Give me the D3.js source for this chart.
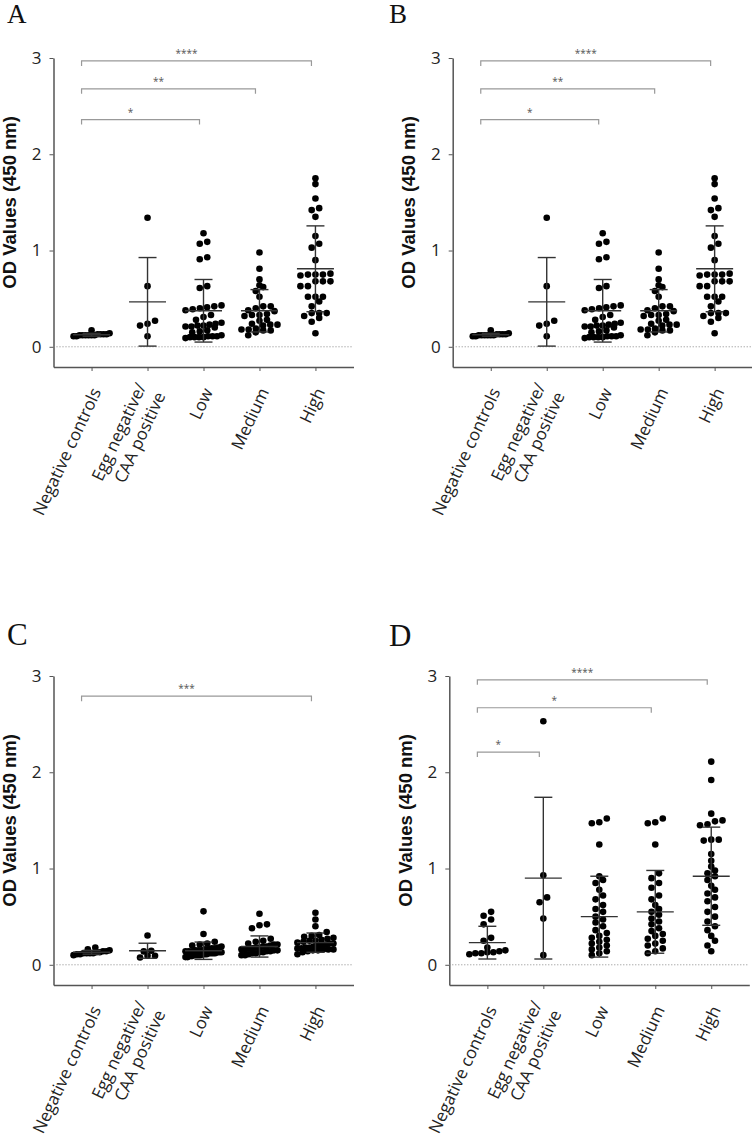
<!DOCTYPE html>
<html lang="en">
<head>
<meta charset="utf-8">
<title>OD values by group</title>
<script src="https://d3js.org/d3.v7.min.js"></script>
<style>
  body { margin: 0; background: #fff; }
</style>
</head>
<body>
<div id="chart"></div>
<script>
// categories and ticks
var categories = ["Negative controls", "Egg negative/\nCAA positive", "Low", "Medium", "High"];
var yTicks = [0, 1, 2, 3];

// panel A (B shows the same data)
var negA  = [0.11, 0.12, 0.12, 0.13, 0.12, 0.17, 0.13, 0.12, 0.12, 0.14, 0.13, 0.12, 0.11, 0.13];
var eggA  = [1.34, 0.63, 0.27, 0.24, 0.22, 0.11];
var lowA  = [1.18, 1.09, 1.07, 0.93, 0.91, 0.63, 0.61, 0.43, 0.42, 0.41, 0.40, 0.39, 0.38, 0.33, 0.31, 0.28,
             0.25, 0.24, 0.23, 0.22, 0.22, 0.21, 0.21, 0.20, 0.17, 0.16, 0.15, 0.12, 0.11, 0.11, 0.11, 0.10,
             0.10, 0.10, 0.10, 0.09];
var medA  = [0.98, 0.81, 0.70, 0.64, 0.62, 0.58, 0.52, 0.42, 0.42, 0.40, 0.38, 0.37, 0.34, 0.33, 0.33, 0.32,
             0.28, 0.27, 0.24, 0.23, 0.23, 0.22, 0.19, 0.18, 0.18, 0.17, 0.17, 0.15, 0.12];
var highA = [1.75, 1.69, 1.54, 1.44, 1.42, 1.35, 1.15, 1.07, 1.03, 0.90, 0.76, 0.75, 0.75, 0.74, 0.75, 0.68,
             0.68, 0.68, 0.63, 0.63, 0.52, 0.52, 0.52, 0.47, 0.42, 0.35, 0.35, 0.35, 0.32, 0.30, 0.26, 0.14];
var meanA = [0.125, 0.467, 0.374, 0.374, 0.81];
var sdA   = [0.015, 0.46, 0.325, 0.22, 0.446];
var bracketsA = [
  {from: 0, to: 2, level: 2.36, label: "*"},
  {from: 0, to: 3, level: 2.68, label: "**"},
  {from: 0, to: 4, level: 2.97, label: "****"}
];

// panel C
var negC  = [0.12, 0.12, 0.11, 0.13, 0.12, 0.14, 0.15, 0.18, 0.16, 0.13, 0.12, 0.11, 0.10, 0.14];
var eggC  = [0.305, 0.146, 0.139, 0.094, 0.094, 0.076];
var lowC  = [0.555, 0.32, 0.24, 0.22, 0.21, 0.20, 0.19, 0.18, 0.17, 0.17, 0.16, 0.16, 0.15, 0.15, 0.15, 0.14,
             0.14, 0.14, 0.13, 0.13, 0.13, 0.12, 0.12, 0.12, 0.12, 0.11, 0.11, 0.11, 0.10, 0.10, 0.10, 0.10,
             0.09, 0.09, 0.08, 0.08];
var medC  = [0.53, 0.42, 0.41, 0.38, 0.27, 0.25, 0.24, 0.22, 0.21, 0.21, 0.20, 0.19, 0.19, 0.18, 0.18, 0.17,
             0.17, 0.16, 0.16, 0.15, 0.15, 0.14, 0.14, 0.13, 0.13, 0.12, 0.12, 0.11, 0.10, 0.10];
var highC = [0.54, 0.47, 0.40, 0.34, 0.31, 0.30, 0.29, 0.28, 0.27, 0.26, 0.25, 0.25, 0.24, 0.23, 0.22, 0.22,
             0.21, 0.20, 0.20, 0.19, 0.18, 0.18, 0.17, 0.17, 0.16, 0.16, 0.16, 0.15, 0.15, 0.14, 0.13, 0.11];
var meanC = [0.13, 0.146, 0.146, 0.19, 0.23];
var sdC   = [0.02, 0.078, 0.09, 0.11, 0.10];
var bracketsC = [
  {from: 0, to: 4, level: 2.79, label: "***"}
];

// panel D
var negD  = [0.55, 0.51, 0.47, 0.42, 0.28, 0.25, 0.18, 0.15, 0.14, 0.13, 0.13, 0.12, 0.12, 0.11];
var eggD  = [2.53, 0.93, 0.70, 0.65, 0.48, 0.10];
var lowD  = [1.52, 1.48, 1.47, 1.25, 0.92, 0.88, 0.85, 0.78, 0.72, 0.68, 0.62, 0.58, 0.55, 0.50, 0.47, 0.44,
             0.40, 0.36, 0.33, 0.30, 0.28, 0.26, 0.24, 0.22, 0.20, 0.18, 0.16, 0.14, 0.12, 0.10];
var medD  = [1.52, 1.48, 1.47, 1.25, 0.95, 0.90, 0.85, 0.80, 0.72, 0.68, 0.62, 0.58, 0.55, 0.52, 0.48, 0.45,
             0.42, 0.38, 0.35, 0.32, 0.30, 0.27, 0.25, 0.22, 0.20, 0.17, 0.14, 0.12];
var highD = [2.11, 1.92, 1.57, 1.50, 1.49, 1.46, 1.45, 1.30, 1.29, 1.30, 1.15, 1.08, 1.02, 0.98, 0.95, 0.92,
             0.88, 0.82, 0.78, 0.74, 0.70, 0.66, 0.60, 0.55, 0.50, 0.45, 0.40, 0.36, 0.30, 0.25, 0.20, 0.14];
var meanD = [0.23, 0.90, 0.50, 0.55, 0.92];
var sdD   = [0.17, 0.84, 0.42, 0.43, 0.51];
var bracketsD = [
  {from: 0, to: 1, level: 2.21, label: "*"},
  {from: 0, to: 3, level: 2.67, label: "*"},
  {from: 0, to: 4, level: 2.96, label: "****"}
];

// where each panel sits on the page
var panels = [
  {name: "A", ox: 53.5,  oy: 58,  lx: 7,   ly: 23,  ls: 27, values: [negA, eggA, lowA, medA, highA], mean: meanA, sd: sdA, brackets: bracketsA},
  {name: "B", ox: 452.7, oy: 58,  lx: 389, ly: 23,  ls: 27, values: [negA, eggA, lowA, medA, highA], mean: meanA, sd: sdA, brackets: bracketsA},
  {name: "C", ox: 53.5,  oy: 676, lx: 7,   ly: 645, ls: 31, values: [negC, eggC, lowC, medC, highC], mean: meanC, sd: sdC, brackets: bracketsC},
  {name: "D", ox: 449.3, oy: 676, lx: 389, ly: 646, ls: 31, values: [negD, eggD, lowD, medD, highD], mean: meanD, sd: sdD, brackets: bracketsD}
];

var width = 300, height = 309;
var axisColor = "#555";

var svg = d3.select("#chart")
  .append("svg")
    .attr("width", 752)
    .attr("height", 1143);

// group close values into rows and spread each row sideways (scatter dot plot style)
function spread(vals, y) {
  var sorted = vals.slice().sort(function(a, b) { return a - b; });
  var rows = [];
  sorted.forEach(function(v) {
    var py = y(v);
    var row = rows[rows.length - 1];
    if (row && Math.abs(row.y0 - py) < 5) row.items.push(v);
    else rows.push({y0: py, items: [v]});
  });
  var out = [];
  rows.forEach(function(row) {
    var n = row.items.length;
    var step = n > 1 ? Math.min(7.5, 36 / (n - 1)) : 0;
    row.items.forEach(function(v, i) {
      out.push({v: v, dx: (i - (n - 1) / 2) * step});
    });
  });
  return out;
}

panels.forEach(function(p) {
  svg.append("text")
    .attr("x", p.lx)
    .attr("y", p.ly)
    .attr("font-family", "Liberation Serif")
    .attr("font-size", p.ls)
    .attr("fill", "#111")
    .text(p.name);

  var g = svg.append("g")
    .attr("transform", "translate(" + p.ox + "," + p.oy + ")");

  var y = d3.scaleLinear().domain([-0.21, 3]).range([height, 0]);
  var x = d3.scalePoint().domain(categories).range([0, width]).padding(0.68);

  // Y axis
  var ya = g.append("g")
    .call(d3.axisLeft(y).tickValues(yTicks).tickSize(4).tickSizeOuter(0).tickPadding(8).tickFormat(d3.format("d")));
  ya.select(".domain").attr("stroke", axisColor).attr("stroke-width", 1.5);
  ya.selectAll(".tick line").attr("stroke", axisColor);
  ya.selectAll(".tick text")
    .attr("font-family", "Open Sans")
    .attr("font-size", 17)
    .attr("fill", "#222");

  // X axis
  var xa = g.append("g")
    .attr("transform", "translate(0," + height + ")")
    .call(d3.axisBottom(x).tickSize(4).tickSizeOuter(0));
  xa.select(".domain").attr("stroke", axisColor).attr("stroke-width", 1.5);
  xa.selectAll(".tick line").attr("stroke", axisColor);
  xa.selectAll(".tick text").remove();
  xa.selectAll(".tick").append("text")
    .attr("transform", "translate(4,22)rotate(-65)")
    .attr("text-anchor", "end")
    .attr("font-family", "Open Sans")
    .attr("font-size", 17)
    .attr("fill", "#222")
    .each(function(d) {
      var lines = d.split("\n");
      var t = d3.select(this);
      lines.forEach(function(l, i) {
        t.append("tspan")
          .attr("x", 0)
          .attr("dy", lines.length === 1 ? "0.35em" : (i === 0 ? "-0.35em" : "1.25em"))
          .text(l);
      });
    });

  // Y axis label
  g.append("text")
    .attr("transform", "translate(-37.5," + y(1.5) + ")rotate(-90)")
    .attr("text-anchor", "middle")
    .attr("font-family", "Liberation Sans")
    .attr("font-weight", "bold")
    .attr("font-size", 18.5)
    .attr("fill", "#111")
    .text("OD Values (450 nm)");

  // dotted zero line
  g.append("line")
    .attr("x1", 0).attr("x2", width)
    .attr("y1", y(0)).attr("y2", y(0))
    .attr("stroke", "#888")
    .attr("stroke-dasharray", "1,2");

  // dots
  categories.forEach(function(c, i) {
    g.selectAll(null)
      .data(spread(p.values[i], y))
      .enter()
      .append("circle")
        .attr("cx", function(d) { return x(c) + d.dx; })
        .attr("cy", function(d) { return y(d.v); })
        .attr("r", 3.3)
        .attr("fill", "#000");
  });

  // mean and SD
  categories.forEach(function(c, i) {
    var cx = x(c), m = p.mean[i], s = p.sd[i];
    var eb = g.append("g").attr("stroke", "#333").attr("stroke-width", 1.4);
    eb.append("line").attr("x1", cx).attr("x2", cx).attr("y1", y(m - s)).attr("y2", y(m + s));
    eb.append("line").attr("x1", cx - 18.5).attr("x2", cx + 18.5).attr("y1", y(m)).attr("y2", y(m));
    eb.append("line").attr("x1", cx - 9).attr("x2", cx + 9).attr("y1", y(m + s)).attr("y2", y(m + s));
    eb.append("line").attr("x1", cx - 9).attr("x2", cx + 9).attr("y1", y(m - s)).attr("y2", y(m - s));
  });

  // significance brackets
  p.brackets.forEach(function(b) {
    var x1 = x(categories[b.from]) - 10;
    var x2 = x(categories[b.to]) - 4;
    var yy = y(b.level);
    g.append("path")
      .attr("d", "M" + x1 + "," + (yy + 5) + "V" + yy + "H" + x2 + "V" + (yy + 5))
      .attr("fill", "none")
      .attr("stroke", "#999")
      .attr("stroke-width", 1.2);
    g.append("text")
      .attr("x", (x1 + x2) / 2 - 10)
      .attr("y", yy - 4)
      .attr("text-anchor", "middle")
      .attr("font-family", "Open Sans")
      .attr("font-size", 10)
      .attr("fill", "#555")
      .text(b.label);
  });
});
</script>
</body>
</html>
